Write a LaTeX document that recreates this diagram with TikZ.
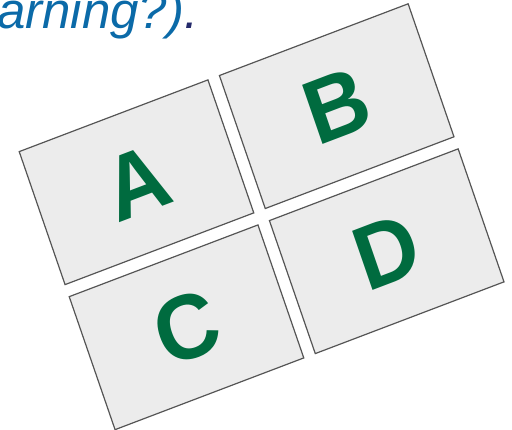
\documentclass[tikz,border=0pt]{standalone}
\usepackage{fontspec}
\setmainfont{Liberation Sans}
\usetikzlibrary{positioning}
\definecolor{panelgray}{HTML}{ECECEC}
\definecolor{edgegray}{HTML}{555555}
\definecolor{lettergreen}{HTML}{006B3F}
\definecolor{textblue}{HTML}{0B6AA8}
\definecolor{dotnavy}{HTML}{242A6B}

\begin{document}
\begin{tikzpicture}[
        x=1pt, y=1pt,
        node distance=11pt,
        panel/.style={rectangle, draw=edgegray, fill=panelgray, line width=1.2pt, minimum width=200.7pt, minimum height=134.7pt, inner sep=0pt, font=\fontsize{87}{87}\selectfont\bfseries, text=lettergreen},
        caption/.style={inner sep=0pt, anchor=base west, font=\fontsize{51}{51}\selectfont\itshape, text=textblue}
    ]
        \useasboundingbox (0,0) rectangle (512,-429);
        \clip (0,0) rectangle (512,-429);
        \node [caption] (tail) at (-3,-28) {arning?)\textcolor{dotnavy}{.}};
        \begin{scope}[shift={(136.5,-182.25)}, yscale=1.05, rotate=19.9, transform shape]
            \node [panel] (A) at (0,0) {A};
            \node [panel, right=of A] (B) {B};
            \node [panel, below=of A] (C) {C};
            \node [panel, right=of C] (D) {D};
        \end{scope}
    \end{tikzpicture}
\end{document}
